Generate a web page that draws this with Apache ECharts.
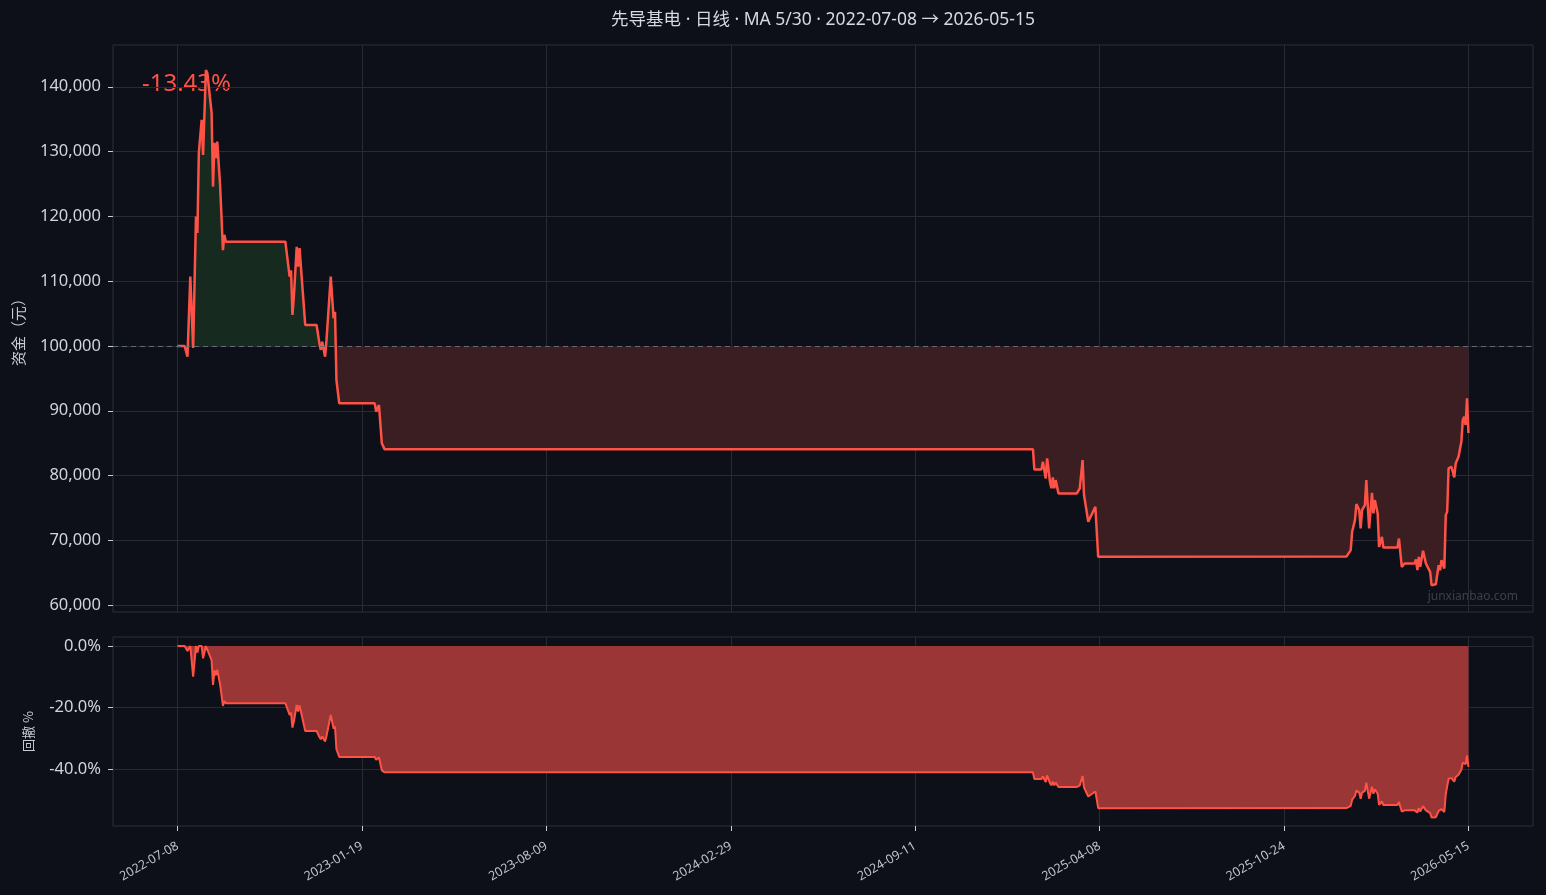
<!DOCTYPE html>
<html>
<head>
<meta charset="utf-8">
<script src="https://cdn.jsdelivr.net/npm/echarts@6/dist/echarts.min.js"></script>
<style>
html,body{margin:0;padding:0;background:#0d1018;}
#chart{width:1546px;height:895px;}
</style>
</head>
<body>
<div id="chart"></div>
<script>
// ---- data (trading-day index, equity in 元) ----
const tickIdx = [0, 130, 260, 390, 520, 650, 780, 910];
const tickDates = ['2022-07-08','2023-01-19','2023-08-09','2024-02-29','2024-09-11','2025-04-08','2025-10-24','2026-05-15'];
const equityTicks = [60000, 70000, 80000, 90000, 100000, 110000, 120000, 130000, 140000];
const ddTicks = [-40, -20, 0];
const dayIdx = [
  0,5,7,9,11,13,14,15,17,18,20,21,24,25,26,27,28,30,31,32,33,34,
  76,79,80,81,82,84,85,86,90,98,100,101,102,104,105,108,110,111,112,113,114,
  139,140,141,142,144,145,146,
  603,604,609,610,612,613,615,616,617,618,619,621,634,636,638,639,640,642,647,648,649,
  824,827,828,830,831,833,834,835,837,838,839,840,842,843,844,846,847,849,850,
  860,861,863,865,872,873,874,875,876,878,880,881,883,884,887,889,890,891,893,
  894,895,896,897,898,900,901,902,903,905,906,907,908,909,910
];
const equity = [
  100000,100000,98350,110700,99700,119970,117450,129800,134900,129500,142600,142100,136000,124600,131350,129000,131550,124850,124600,114800,117150,116100,
  116100,110700,111700,104800,107600,115300,112250,115100,103250,103250,100400,99400,100660,98350,100900,110700,104280,105300,94750,94750,91150,
  91150,89870,89600,90890,84980,85000,84050,
  84050,80960,80960,82130,79560,82650,79050,78030,79730,78030,79300,77250,77250,78030,82390,77000,76830,72870,75190,75190,67460,
  67500,68500,71330,73130,75600,74670,71840,74670,75450,79300,75450,71840,77340,74160,76220,74160,69000,70550,68900,
  68900,70290,65920,66430,66430,67050,65400,67460,65920,68390,66430,66200,65150,63090,63240,66180,65400,66950,65660,
  73900,74410,81110,81370,81370,79720,81880,82390,82900,85220,88570,89080,87800,91920,86570
];
const initialCapital = 100000;
const titleText = '先导基电 · 日线 · MA 5/30 · 2022-07-08 → 2026-05-15';
const returnText = '-13.43%';

// ---- derived ----
const eqData = dayIdx.map((d, i) => [d, equity[i]]);
let peak = -Infinity;
const ddData = dayIdx.map((d, i) => { peak = Math.max(peak, equity[i]); return [d, (equity[i] / peak - 1) * 100]; });

const TOP = 45, TOPH = 567, BOT = 637, BOTH = 189;
const yMin = 58950, yMax = 146450;
const yBase = TOP + (yMax - initialCapital) / (yMax - yMin) * TOPH;
const s = yBase / 895;
const fillGrad = new echarts.graphic.LinearGradient(0, 0, 0, 895, [
  {offset: 0, color: '#172a20'}, {offset: s, color: '#172a20'},
  {offset: s, color: '#3b1e22'}, {offset: 1, color: '#3b1e22'}
], true);

const FONT = 'Noto Sans, Noto Sans CJK SC, sans-serif';
const lineColor = '#ff5247';
const gridLine = {show: true, lineStyle: {color: '#272b34', width: 1}};
const tickStyle = {color: '#c8ccd4', width: 1};
const chart = echarts.init(document.getElementById('chart'));
chart.setOption({
  backgroundColor: '#0d1018',
  animation: false,
  grid: [
    {left: 113, right: 13, top: TOP, height: TOPH, show: true, borderColor: '#2a2e37', borderWidth: 1, backgroundColor: 'transparent'},
    {left: 113, right: 13, top: BOT, height: BOTH, show: true, borderColor: '#2a2e37', borderWidth: 1, backgroundColor: 'transparent'}
  ],
  xAxis: [
    {type: 'value', gridIndex: 0, min: -45.5, max: 955.5,
      axisLine: {show: false, onZero: false}, axisTick: {show: false, customValues: tickIdx},
      axisLabel: {show: false, customValues: tickIdx}, splitLine: gridLine},
    {type: 'value', gridIndex: 1, min: -45.5, max: 955.5,
      axisLine: {show: false, onZero: false},
      axisTick: {show: true, customValues: tickIdx, length: 5, lineStyle: tickStyle},
      axisLabel: {show: true, customValues: tickIdx, rotate: 30, color: '#c0c4cc', fontSize: 12.5, margin: 19,
        fontFamily: FONT,
        formatter: v => { const i = tickIdx.indexOf(Math.round(v)); return i >= 0 ? tickDates[i] : ''; }},
      splitLine: gridLine}
  ],
  yAxis: [
    {type: 'value', gridIndex: 0, min: yMin, max: yMax,
      name: '资金（元）', nameLocation: 'middle', nameGap: 87, nameRotate: 90,
      nameTextStyle: {color: '#c8ccd4', fontSize: 15, fontFamily: 'Noto Sans CJK SC'},
      axisLine: {show: false, onZero: false},
      axisTick: {show: true, length: 5, customValues: equityTicks, lineStyle: tickStyle},
      axisLabel: {customValues: equityTicks, color: '#d0d4dc', fontSize: 16.5, margin: 12, fontFamily: FONT,
        formatter: v => Math.round(v).toLocaleString('en-US')},
      splitLine: gridLine},
    {type: 'value', gridIndex: 1, min: -58.5, max: 2.93,
      name: '回撤 %', nameLocation: 'middle', nameGap: 78, nameRotate: 90,
      nameTextStyle: {color: '#c8ccd4', fontSize: 13, fontFamily: 'Noto Sans CJK SC'},
      axisLine: {show: false, onZero: false},
      axisTick: {show: true, length: 5, customValues: ddTicks, lineStyle: tickStyle},
      axisLabel: {customValues: ddTicks, color: '#d0d4dc', fontSize: 16.5, margin: 12, fontFamily: FONT,
        formatter: v => (Math.abs(v) < 1e-9 ? 0 : v).toFixed(1) + '%'},
      splitLine: gridLine}
  ],
  series: [
    {type: 'line', xAxisIndex: 0, yAxisIndex: 0, data: eqData, symbol: 'none',
      lineStyle: {color: lineColor, width: 2.5},
      areaStyle: {origin: initialCapital, color: fillGrad, opacity: 1},
      markLine: {silent: true, symbol: 'none', label: {show: false},
        lineStyle: {color: '#5f6b78', type: [5, 4], width: 1},
        data: [{yAxis: initialCapital}]}},
    {type: 'line', xAxisIndex: 1, yAxisIndex: 1, data: ddData, symbol: 'none',
      lineStyle: {color: lineColor, width: 2},
      areaStyle: {color: '#9b3636', opacity: 1}}
  ],
  graphic: [
    {type: 'text', x: 823, y: 20, style: {text: titleText, fill: '#d6d9df', fontSize: 17.5, fontFamily: FONT,
      align: 'center', verticalAlign: 'middle'}},
    {type: 'text', x: 142, y: 84, style: {text: returnText, fill: lineColor, fontSize: 24, fontFamily: FONT,
      align: 'left', verticalAlign: 'middle'}},
    {type: 'text', right: 28, top: 591, style: {text: 'junxianbao.com', fill: '#3a404c', fontSize: 12, fontFamily: FONT}}
  ]
});
</script>
</body>
</html>
